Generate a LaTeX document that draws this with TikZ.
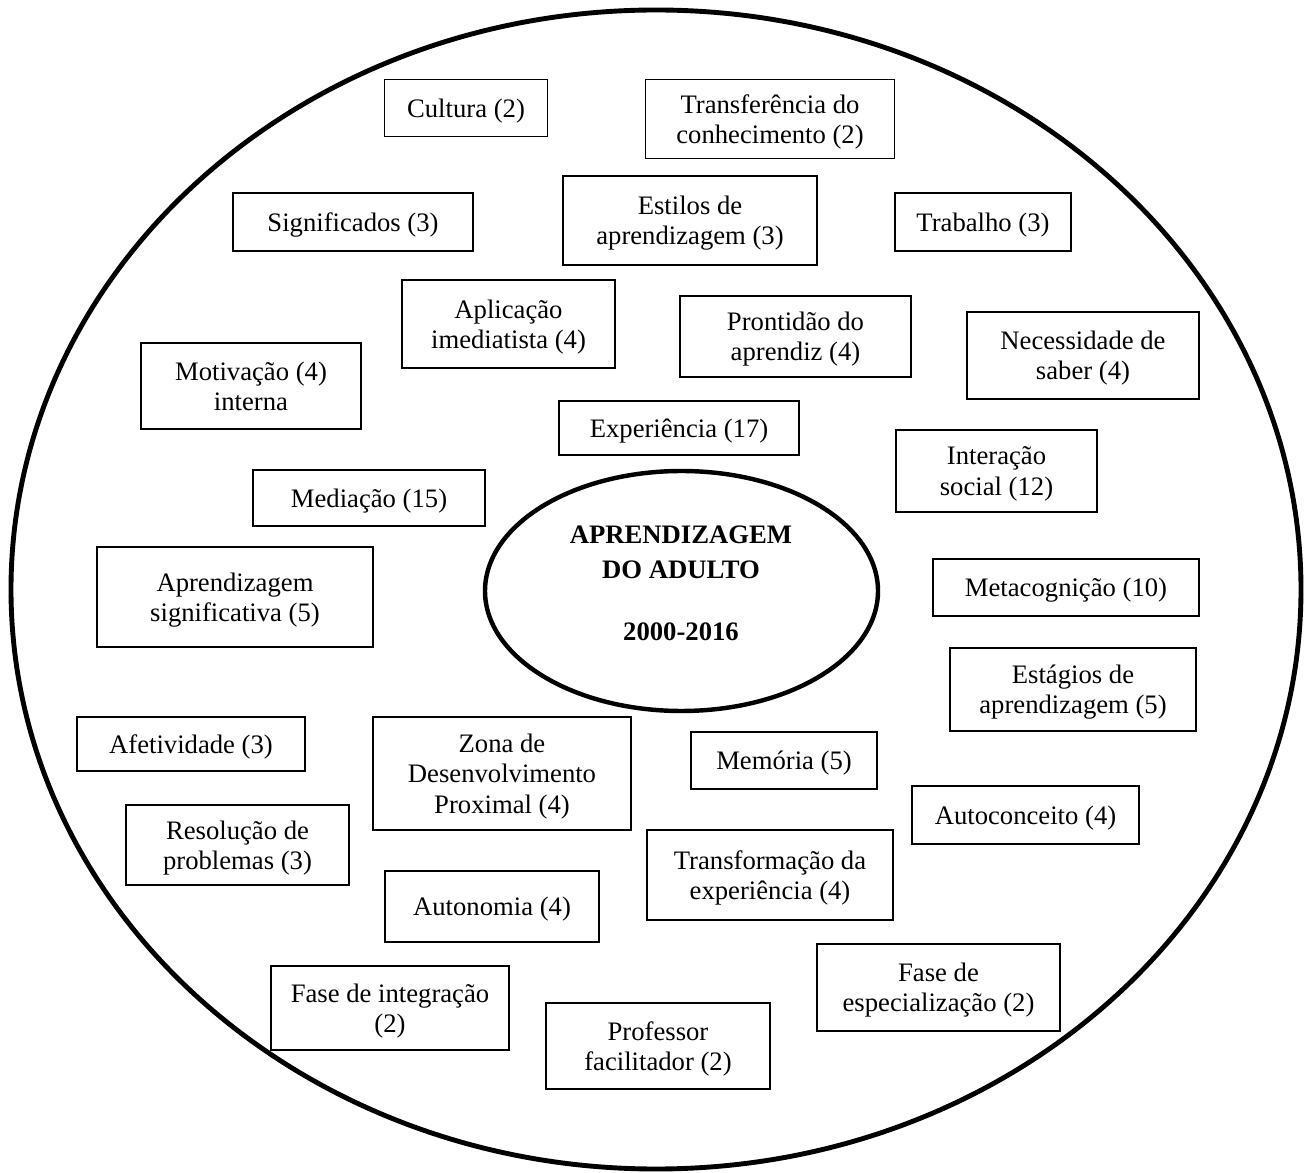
\documentclass[tikz,border=0pt]{standalone}
\usepackage{fontspec}
\setmainfont{Liberation Serif}
\usetikzlibrary{shapes.geometric}
\tikzset{
  bx/.style 2 args={draw, line width=0.6pt, align=center, inner sep=0pt,
    minimum width=#1*0.45pt, minimum height=#2*0.45pt, text depth=0pt,
    font=\fontsize{12}{13.7}\selectfont},
  ring/.style 2 args={draw, ellipse, line width=2.2pt, inner sep=0pt,
    minimum width=#1*0.45pt, minimum height=#2*0.45pt},
  ttl/.style={anchor=base, inner sep=0pt, font=\fontsize{12}{13.7}\selectfont\bfseries}
}
\begin{document}
\begin{tikzpicture}[x=0.45pt, y=-0.45pt]
\useasboundingbox (0,0) rectangle (1307,1173);
\node[ring={1290}{1159}] (frame) at (656,589.5) {};
\node[ring={393}{240}, line width=2pt] (core) at (681.5,591) {};
\node[ttl] (t1) at (681,544) {APRENDIZAGEM};
\node[ttl] (t2) at (681,579) {DO ADULTO};
\node[ttl] (t3) at (681,641) {2000-2016};

\node[bx={163}{57}] (cult) at (466,108) {Cultura (2)};
\node[bx={249}{79}] (transf) at (770,119) {Transferência do\\conhecimento (2)};
\node[bx={240}{58}] (signif) at (353,222) {Significados (3)};
\node[bx={254}{89}] (estilos) at (690,220.5) {Estilos de\\aprendizagem (3)};
\node[bx={176}{58}] (trab) at (983,222) {Trabalho (3)};
\node[bx={213}{88}] (aplic) at (508.5,324) {Aplicação\\imediatista (4)};
\node[bx={231}{81}] (pront) at (795.5,336.5) {Prontidão do\\aprendiz (4)};
\node[bx={232}{87}] (necess) at (1083,355.5) {Necessidade de\\saber (4)};
\node[bx={220}{86}] (motiv) at (251,386) {Motivação (4)\\interna};
\node[bx={240}{54}] (exper) at (679,428) {Experiência (17)};
\node[bx={201}{82}] (inter) at (996.5,471) {Interação\\social (12)};
\node[bx={232}{56}] (media) at (369,498) {Mediação (15)};
\node[bx={276}{100}] (aprsig) at (235,597) {Aprendizagem\\significativa (5)};
\node[bx={266}{57}] (meta) at (1066,587.5) {Metacognição (10)};
\node[bx={246}{83}] (estag) at (1073,689.5) {Estágios de\\aprendizagem (5)};
\node[bx={228}{54}] (afet) at (191,744) {Afetividade (3)};
\node[bx={258}{113}] (zona) at (502,773.5) {Zona de\\Desenvolvimento\\Proximal (4)};
\node[bx={186}{57}] (memor) at (784,760.5) {Memória (5)};
\node[bx={227}{58}] (autoc) at (1025.5,815) {Autoconceito (4)};
\node[bx={223}{80}] (resol) at (237.5,845) {Resolução de\\problemas (3)};
\node[bx={246}{90}] (transfm) at (770,875) {Transformação da\\experiência (4)};
\node[bx={214}{71}] (auton) at (492,906.5) {Autonomia (4)};
\node[bx={238}{84}] (faseint) at (390,1008) {Fase de integração\\(2)};
\node[bx={243}{87}] (fasesp) at (938.5,987.5) {Fase de\\especialização (2)};
\node[bx={224}{86}] (prof) at (658,1046) {Professor\\facilitador (2)};
\end{tikzpicture}
\end{document}
